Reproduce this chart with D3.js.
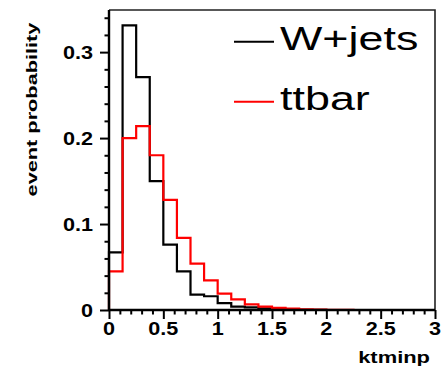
<!DOCTYPE html>
<html>
<head>
<meta charset="utf-8">
<script src="https://cdn.jsdelivr.net/npm/d3@7"></script>
<style>
  html, body { margin: 0; padding: 0; background: #fff; }
  svg { display: block; }
  text { font-family: "Liberation Sans", Arial, Helvetica, sans-serif; }
</style>
</head>
<body>
<svg id="chart" width="448" height="369"></svg>
<script>
// ktminp distributions, normalised to unit area, 24 bins of width 0.125 on [0, 3]
const binEdges = d3.range(0, 3.0001, 0.125);
const wjets = [0.067, 0.331, 0.271, 0.150, 0.076, 0.045, 0.018, 0.016,
               0.008, 0.004, 0.003, 0.002, 0.001, 0.0005, 0.0003, 0.0002,
               0, 0, 0, 0, 0, 0, 0, 0];
const ttbar = [0.045, 0.200, 0.214, 0.180, 0.128, 0.084, 0.054, 0.0345,
               0.019, 0.0124, 0.0066, 0.004, 0.0025, 0.0015, 0.0008, 0.0004,
               0.0002, 0.0001, 0, 0, 0, 0, 0, 0];
const seriesNames = ["W+jets", "ttbar"];
const seriesColors = ["#000000", "#ff0000"];
const xTicks = [0, 0.5, 1, 1.5, 2, 2.5, 3];
const xTickLabels = ["0", "0.5", "1", "1.5", "2", "2.5", "3"];
const yTicks = [0, 0.1, 0.2, 0.3];
const yTickLabels = ["0", "0.1", "0.2", "0.3"];
const xTitle = "ktminp";
const yTitle = "event probability";

const svg = d3.select("#chart");
const plot = { left: 109, right: 435, top: 10, bottom: 310 };

const x = d3.scaleLinear().domain([0, 3]).range([plot.left, plot.right]);
const y = d3.scaleLinear().domain([0, 0.349]).range([plot.bottom, plot.top]);

// frame: thin top and right edges
svg.append("path")
  .attr("d", `M${plot.left},${plot.top}H${plot.right}V${plot.bottom}`)
  .attr("fill", "none").attr("stroke", "#222").attr("stroke-width", 1.6);

// step outline of a histogram
function stepPath(vals) {
  const p = d3.path();
  p.moveTo(x(binEdges[0]), y(0));
  vals.forEach((v, i) => {
    p.lineTo(x(binEdges[i]), y(v));
    p.lineTo(x(binEdges[i + 1]), y(v));
  });
  p.lineTo(x(binEdges[vals.length]), y(0));
  return p.toString();
}

[wjets, ttbar].forEach((vals, k) => {
  svg.append("path")
    .attr("d", stepPath(vals))
    .attr("fill", "none")
    .attr("stroke", seriesColors[k])
    .attr("stroke-width", 2.2)
    .attr("stroke-linejoin", "miter");
});

// axes with outward major and minor ticks
const yMinor = d3.range(0, 0.3481, 0.02).filter(v => Math.abs(v * 10 - Math.round(v * 10)) > 1e-6);
const xMinor = d3.range(0, 3.0001, 0.1).filter(v => Math.abs(v * 2 - Math.round(v * 2)) > 1e-6);

const yAxisG = svg.append("g").attr("transform", `translate(${plot.left},0)`);
yAxisG.call(d3.axisLeft(y).tickValues(yTicks).tickSize(9).tickFormat(""));
yAxisG.append("g").call(d3.axisLeft(y).tickValues(yMinor).tickSize(4.5).tickFormat(""));
const xAxisG = svg.append("g").attr("transform", `translate(0,${plot.bottom})`);
xAxisG.call(d3.axisBottom(x).tickValues(xTicks).tickSize(9).tickFormat(""));
xAxisG.append("g").call(d3.axisBottom(x).tickValues(xMinor).tickSize(4.5).tickFormat(""));

svg.selectAll(".domain").attr("stroke", "#000").attr("stroke-width", 2.4);
svg.selectAll(".tick line").attr("stroke", "#000").attr("stroke-width", 2);
yAxisG.selectAll("g > .domain").filter(function () { return this.parentNode !== yAxisG.node(); }).remove();
xAxisG.selectAll("g > .domain").filter(function () { return this.parentNode !== xAxisG.node(); }).remove();
// keep the axis lines flush with the frame corners
yAxisG.select(":scope > .domain").attr("d", `M0,${plot.bottom}V${plot.top}`);
xAxisG.select(":scope > .domain").attr("d", `M${plot.left},0H${plot.right}`);

// horizontally widened text helper
function label(g, str, tx, ty, opts) {
  return g.append("text")
    .attr("transform", `translate(${tx},${ty}) rotate(${opts.rot || 0}) scale(${opts.sx || 1},1)`)
    .attr("text-anchor", opts.anchor || "start")
    .attr("font-size", opts.size)
    .attr("font-weight", opts.weight || "normal")
    .attr("fill", opts.fill || "#000")
    .text(str);
}

yTicks.forEach((v, i) => {
  label(svg, yTickLabels[i], 93, y(v) + 6.5, { anchor: "end", size: 18, weight: "bold", sx: 1.2 });
});
xTicks.forEach((v, i) => {
  label(svg, xTickLabels[i], x(v), 335, { anchor: "middle", size: 18, weight: "bold", sx: 1.2 });
});

label(svg, xTitle, 430, 363, { anchor: "end", size: 17, weight: "bold", sx: 1.29 });
label(svg, yTitle, 37, 109.5, { anchor: "middle", size: 14.5, weight: "bold", sx: 1.5, rot: -90 });

// legend
const legendRows = [41.7, 101.7];
seriesNames.forEach((name, k) => {
  svg.append("line")
    .attr("x1", 234).attr("x2", 274)
    .attr("y1", legendRows[k]).attr("y2", legendRows[k])
    .attr("stroke", seriesColors[k]).attr("stroke-width", 2);
  label(svg, name, 280, legendRows[k] + 8.5, { size: 34, sx: 1.32 });
});
</script>
</body>
</html>
